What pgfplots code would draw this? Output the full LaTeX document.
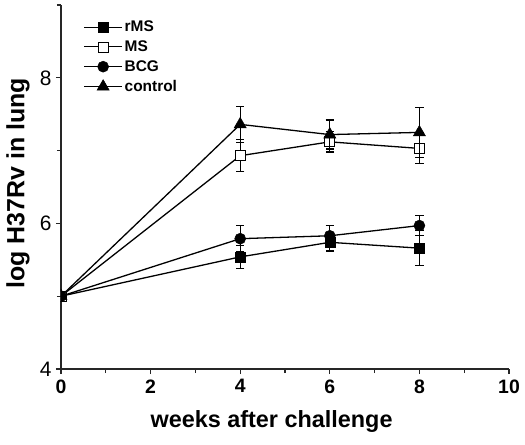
\documentclass[border=0pt]{standalone}
\usepackage{pgfplots}
\pgfplotsset{compat=1.18}
\usepackage{fontspec}
\setmainfont{Liberation Sans}
\begin{document}
\begin{tikzpicture}
\begin{axis}[
  scale only axis,
  anchor=south west, at={(0bp,0bp)},
  width=448bp, height=364bp,
  xmin=0, xmax=10, ymin=4, ymax=9,
  clip marker paths=true,
  axis x line*=bottom, axis y line*=left,
  axis line style={line width=1.2pt, black!85},
  xtick={0,2,4,6,8,10},
  ytick={4,6,8},
  minor xtick={1,3,5,7,9},
  minor ytick={5,7,9},
  tick align=outside,
  major tick length=5bp, minor tick length=4bp,
  tick style={line width=1.1pt, black!85},
  /pgf/number format/assume math mode=true,
  xticklabel style={font=\fontsize{19.5}{20}\selectfont\bfseries, yshift=-2bp},
  yticklabel style={font=\fontsize{21}{22}\selectfont, xshift=-1bp},
  xlabel={\textbf{weeks after challenge}},
  ylabel={\textbf{log H37Rv in lung}},
  every axis x label/.style={at={(rel axis cs:0.47,0)}, anchor=base, yshift=-58bp,
     font=\fontsize{23.5}{26}\selectfont},
  every axis y label/.style={at={(rel axis cs:0,0.51)}, anchor=center, rotate=90, yshift=43bp,
     font=\fontsize{25}{28}\selectfont},
  legend style={draw=none, fill=none, inner sep=0pt, at={(rel axis cs:0.05,0.962)}, anchor=north west,
    font=\fontsize{15.5}{17}\selectfont\bfseries, row sep=3.5bp,
    /tikz/every even column/.append style={column sep=2bp}},
  legend cell align=left,
  legend image code/.code={
    \draw[line width=1.1pt] (0bp,0bp) -- (38bp,0bp);
    \draw[#1] plot coordinates {(19bp,0bp)};
  },
  error bars/error bar style={line width=1.3pt, black},
  error bars/error mark options={rotate=90, mark size=4.2bp, line width=1.3pt, black},
]
\addplot[black, line width=1.3pt, mark=square*, mark size=5bp, mark options={fill=black, solid, line width=0.5pt},
  error bars/.cd, y dir=both, y explicit]
  coordinates {(0,5.0) +- (0,0) (4,5.54) +- (0,0.16) (6,5.74) +- (0,0.12) (8,5.66) +- (0,0.24)};
\addlegendentry{rMS}
\addplot[black, line width=1.3pt, mark=square*, mark size=5bp, mark options={fill=white, draw=black, line width=0.8pt, solid},
  error bars/.cd, y dir=both, y explicit]
  coordinates {(0,5.0) +- (0,0) (4,6.93) +- (0,0.22) (6,7.12) +- (0,0.14) (8,7.03) +- (0,0.21)};
\addlegendentry{MS}
\addplot[black, line width=1.3pt, mark=*, mark size=5.5bp, mark options={fill=black, solid, line width=0.5pt},
  error bars/.cd, y dir=both, y explicit]
  coordinates {(0,5.0) +- (0,0) (4,5.79) +- (0,0.18) (6,5.83) +- (0,0.14) (8,5.97) +- (0,0.14)};
\addlegendentry{BCG}
\addplot[black, line width=1.3pt, mark=triangle*, mark size=7bp, mark options={fill=black, solid, line width=0.5pt},
  error bars/.cd, y dir=both, y explicit]
  coordinates {(0,5.0) +- (0,0) (4,7.36) +- (0,0.25) (6,7.22) +- (0,0.2) (8,7.25) +- (0,0.34)};
\addlegendentry{control}
\end{axis}
\pgfresetboundingbox
\path[use as bounding box] (-61bp,-76bp) rectangle (464bp,369bp);
\end{tikzpicture}
\end{document}
